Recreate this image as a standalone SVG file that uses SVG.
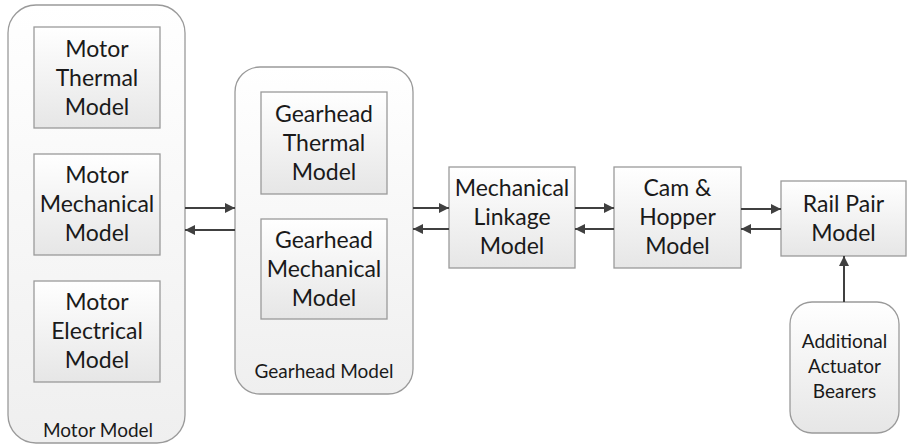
<svg xmlns="http://www.w3.org/2000/svg" width="908" height="447" viewBox="0 0 908 447">
<defs>
<linearGradient id="gBox" x1="0" y1="0" x2="0" y2="1">
<stop offset="0" stop-color="#ffffff"/>
<stop offset="1" stop-color="#e6e6e6"/>
</linearGradient>
<linearGradient id="gCont" x1="0" y1="0" x2="0" y2="1">
<stop offset="0" stop-color="#ffffff"/>
<stop offset="1" stop-color="#efefef"/>
</linearGradient>
<marker id="ah" viewBox="0 0 10 10" refX="10" refY="5" markerWidth="10" markerHeight="10" markerUnits="userSpaceOnUse" orient="auto">
<path d="M0,0 L10,5 L0,10 z" fill="#404040"/>
</marker>
</defs>
<style>
.cont{fill:url(#gCont);stroke:#9a9a9a;stroke-width:1.3}
.box{fill:url(#gBox);stroke:#9a9a9a;stroke-width:1.3}
.t{font-family:Lato,"Liberation Sans",sans-serif;font-size:23px;fill:#1a1a1a;text-anchor:middle}
.s{font-family:Lato,"Liberation Sans",sans-serif;font-size:19px;fill:#1a1a1a;text-anchor:middle}
.c{stroke:#404040;stroke-width:2;fill:none;marker-end:url(#ah)}
</style>
<g id="motor-model">
<rect class="cont" x="8" y="5" width="177" height="438" rx="28"/>
<text class="s" x="98" y="437">Motor Model</text>
</g>
<g id="motor-thermal">
<rect class="box" x="34" y="27" width="126" height="101"/>
<text class="t" x="97" y="57">Motor</text>
<text class="t" x="97" y="86">Thermal</text>
<text class="t" x="97" y="115">Model</text>
</g>
<g id="motor-mechanical">
<rect class="box" x="34" y="154" width="126" height="101"/>
<text class="t" x="97" y="183">Motor</text>
<text class="t" x="97" y="212">Mechanical</text>
<text class="t" x="97" y="241">Model</text>
</g>
<g id="motor-electrical">
<rect class="box" x="34" y="281" width="126" height="101"/>
<text class="t" x="97" y="310">Motor</text>
<text class="t" x="97" y="339">Electrical</text>
<text class="t" x="97" y="368">Model</text>
</g>
<g id="gearhead-model">
<rect class="cont" x="235" y="67" width="178" height="327" rx="25"/>
<text class="s" x="324" y="378">Gearhead Model</text>
</g>
<g id="gearhead-thermal">
<rect class="box" x="261" y="92" width="126" height="102"/>
<text class="t" x="324" y="122">Gearhead</text>
<text class="t" x="324" y="151">Thermal</text>
<text class="t" x="324" y="180">Model</text>
</g>
<g id="gearhead-mechanical">
<rect class="box" x="261" y="219" width="126" height="100"/>
<text class="t" x="324" y="248">Gearhead</text>
<text class="t" x="324" y="277">Mechanical</text>
<text class="t" x="324" y="306">Model</text>
</g>
<g id="mechanical-linkage">
<rect class="box" x="449" y="167" width="126" height="101"/>
<text class="t" x="512" y="196">Mechanical</text>
<text class="t" x="512" y="225">Linkage</text>
<text class="t" x="512" y="254">Model</text>
</g>
<g id="cam-hopper">
<rect class="box" x="614" y="167" width="127" height="101"/>
<text class="t" x="677.5" y="196">Cam &amp;</text>
<text class="t" x="677.5" y="225">Hopper</text>
<text class="t" x="677.5" y="254">Model</text>
</g>
<g id="rail-pair">
<rect class="box" x="781" y="181" width="125" height="75"/>
<text class="t" x="843.5" y="212">Rail Pair</text>
<text class="t" x="843.5" y="241">Model</text>
</g>
<g id="additional-bearers">
<rect class="box" x="790" y="302" width="109" height="131" rx="22"/>
<text class="s" x="844.5" y="348">Additional</text>
<text class="s" x="844.5" y="373">Actuator</text>
<text class="s" x="844.5" y="398">Bearers</text>
</g>
<g id="connectors">
<line class="c" x1="185" y1="208" x2="235" y2="208"/>
<line class="c" x1="235" y1="230" x2="185" y2="230"/>
<line class="c" x1="413" y1="208" x2="449" y2="208"/>
<line class="c" x1="449" y1="229" x2="413" y2="229"/>
<line class="c" x1="575" y1="208" x2="614" y2="208"/>
<line class="c" x1="614" y1="229" x2="575" y2="229"/>
<line class="c" x1="741" y1="209" x2="781" y2="209"/>
<line class="c" x1="781" y1="229" x2="741" y2="229"/>
<line class="c" x1="844" y1="302" x2="844" y2="256"/>
</g>
</svg>
